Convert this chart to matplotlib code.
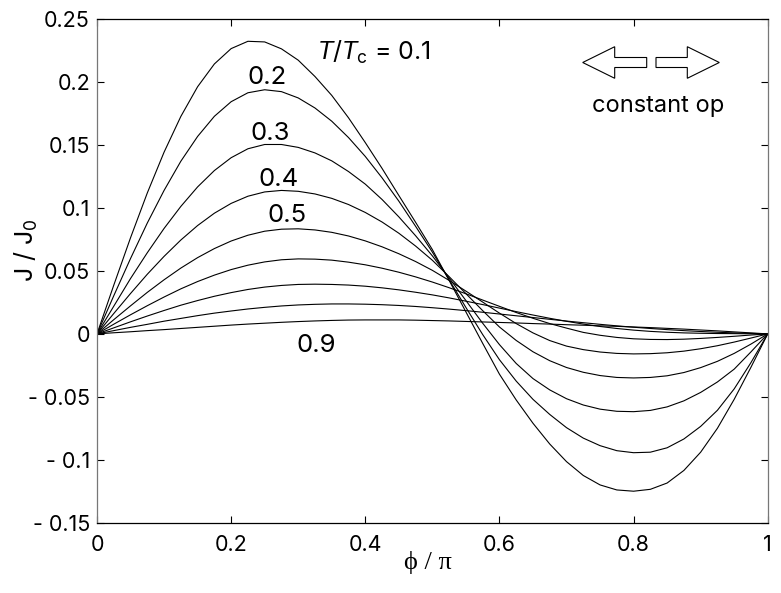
import matplotlib
matplotlib.use("Agg")
import matplotlib.pyplot as plt
from matplotlib.patches import FancyArrow
from matplotlib.transforms import Affine2D

plt.rcParams["font.family"] = ["Inter", "Liberation Sans", "DejaVu Sans"]
plt.rcParams["mathtext.fontset"] = "custom"
plt.rcParams["mathtext.rm"] = "Inter"
plt.rcParams["mathtext.it"] = "Liberation Sans:italic"

# phase difference phi/pi
phi = [0.000, 0.025, 0.050, 0.075, 0.100, 0.125, 0.150, 0.175, 0.200, 0.225,
       0.250, 0.275, 0.300, 0.325, 0.350, 0.375, 0.400, 0.425, 0.450, 0.475,
       0.500, 0.525, 0.550, 0.575, 0.600, 0.625, 0.650, 0.675, 0.700, 0.725,
       0.750, 0.775, 0.800, 0.825, 0.850, 0.875, 0.900, 0.925, 0.950, 0.975,
       1.000]

# J/J0, one list per T/Tc
j_t01 = [0, 0.0387, 0.0764, 0.112, 0.1444, 0.1728, 0.1964, 0.2145, 0.2267, 0.2325,
         0.232, 0.2265, 0.2175, 0.2045, 0.1895, 0.1717, 0.152, 0.1315, 0.110, 0.0887,
         0.067, 0.0425, 0.0175, -0.0075, -0.032, -0.0525, -0.071, -0.0875, -0.1015, -0.1125,
         -0.120, -0.124, -0.125, -0.1235, -0.1185, -0.1085, -0.094, -0.075, -0.052, -0.0265,
         0]
j_t02 = [0, 0.0303, 0.0599, 0.0881, 0.114, 0.1372, 0.1569, 0.1729, 0.1845, 0.1916,
         0.194, 0.1925, 0.1875, 0.1795, 0.169, 0.156, 0.141, 0.124, 0.1055, 0.0855,
         0.065, 0.043, 0.021, -0.0005, -0.0205, -0.0375, -0.052, -0.064, -0.0745, -0.0828,
         -0.0888, -0.0928, -0.0944, -0.094, -0.0905, -0.0835, -0.0735, -0.0607, -0.0437, -0.0228,
         0]
j_t03 = [0, 0.022, 0.044, 0.0645, 0.0838, 0.1013, 0.1168, 0.1298, 0.1400, 0.1471,
         0.1505, 0.1505, 0.1482, 0.1438, 0.1375, 0.1290, 0.1190, 0.1068, 0.093, 0.078,
         0.062, 0.0445, 0.0265, 0.0085, -0.0085, -0.0235, -0.0355, -0.0445, -0.0515, -0.0565,
         -0.0598, -0.0615, -0.0618, -0.0608, -0.058, -0.0532, -0.0465, -0.0382, -0.0280, -0.0143,
         0]
j_t04 = [0, 0.0162, 0.0321, 0.0474, 0.0616, 0.0746, 0.0861, 0.0959, 0.1037, 0.1094,
         0.1128, 0.114, 0.1133, 0.1112, 0.1077, 0.1028, 0.0965, 0.0889, 0.0800, 0.0698,
         0.0585, 0.0455, 0.032, 0.0185, 0.0055, -0.0052, -0.0142, -0.0213, -0.0267, -0.0305,
         -0.0331, -0.0346, -0.035, -0.0346, -0.0333, -0.0307, -0.0268, -0.0218, -0.0155, -0.0081,
         0]
j_t05 = [0, 0.0113, 0.0223, 0.033, 0.043, 0.0523, 0.0606, 0.0678, 0.0738, 0.0784,
         0.0816, 0.0832, 0.0835, 0.0826, 0.0807, 0.0778, 0.0739, 0.0692, 0.0637, 0.0575,
         0.0505, 0.0425, 0.034, 0.0253, 0.0165, 0.0082, 0.0008, -0.0053, -0.0097, -0.0125,
         -0.0144, -0.0155, -0.0159, -0.0157, -0.0150, -0.0137, -0.0118, -0.0094, -0.0065, -0.0033,
         0]
j_t06 = [0, 0.0077, 0.0152, 0.0224, 0.0293, 0.0358, 0.0416, 0.0467, 0.0511, 0.0546,
         0.0572, 0.0589, 0.0596, 0.0594, 0.0586, 0.0570, 0.0549, 0.0522, 0.0490, 0.0453,
         0.0412, 0.0367, 0.0319, 0.0269, 0.0219, 0.0170, 0.0124, 0.0082, 0.0046, 0.0012,
         -0.0011, -0.0028, -0.0039, -0.0044, -0.0045, -0.0042, -0.0036, -0.0028, -0.0019, -0.0009,
         0]
j_t07 = [0, 0.0048, 0.0096, 0.0142, 0.0186, 0.0228, 0.0265, 0.0299, 0.0328, 0.0353,
         0.0372, 0.0385, 0.0393, 0.0395, 0.0393, 0.0388, 0.0379, 0.0366, 0.0350, 0.0331,
         0.0310, 0.0286, 0.0260, 0.0233, 0.0205, 0.0177, 0.0150, 0.0124, 0.0100, 0.0078,
         0.0059, 0.0043, 0.0030, 0.0020, 0.0013, 0.0008, 0.0005, 0.0003, 0.0002, 0.0001,
         0]
j_t08 = [0, 0.0026, 0.0052, 0.0076, 0.0101, 0.0123, 0.0145, 0.0165, 0.0182, 0.0198,
         0.0211, 0.0222, 0.0230, 0.0235, 0.0238, 0.0238, 0.0236, 0.0232, 0.0226, 0.0218,
         0.0208, 0.0197, 0.0185, 0.0172, 0.0158, 0.0144, 0.0130, 0.0116, 0.0102, 0.0089,
         0.0076, 0.0064, 0.0053, 0.0043, 0.0034, 0.0026, 0.0019, 0.0013, 0.0008, 0.0004,
         0]
j_t09 = [0, 0.0009, 0.0017, 0.0026, 0.0034, 0.0043, 0.0052, 0.0061, 0.0070, 0.0078,
         0.0085, 0.0092, 0.0098, 0.0103, 0.0107, 0.0110, 0.0111, 0.0111, 0.0111, 0.0109,
         0.0106, 0.0103, 0.0099, 0.0095, 0.0091, 0.0087, 0.0082, 0.0078, 0.0073, 0.0069,
         0.0064, 0.0060, 0.0055, 0.0050, 0.0044, 0.0038, 0.0031, 0.0024, 0.0016, 0.0008,
         0]

curves = [j_t01, j_t02, j_t03, j_t04, j_t05, j_t06, j_t07, j_t08, j_t09]

x_ticks = [0, 0.2, 0.4, 0.6, 0.8, 1.0]
x_tick_labels = ["0", "0.2", "0.4", "0.6", "0.8", "1"]
y_ticks = [-0.15, -0.1, -0.05, 0, 0.05, 0.1, 0.15, 0.2, 0.25]
y_tick_labels = ["- 0.15", "- 0.1", "- 0.05", "0", "0.05", "0.1", "0.15", "0.2", "0.25"]

# curve labels: text, phi, J (baseline)
labels = ["0.2", "0.3", "0.4", "0.5", "0.9"]
label_phi = [0.253, 0.258, 0.2714, 0.284, 0.3275]
label_j = [0.1987, 0.1537, 0.1179, 0.0887, -0.0141]

fig = plt.figure(figsize=(7.81, 5.93), dpi=100)
ax = fig.add_axes([0.1242, 0.1186, 0.8588, 0.8489])

for j in curves:
    ax.plot(phi, j, color="black", lw=0.8)

ax.set_xlim(0, 1)
ax.set_ylim(-0.15, 0.25)
ax.set_xticks(x_ticks)
ax.set_xticklabels(x_tick_labels)
ax.set_yticks(y_ticks)
ax.set_yticklabels(y_tick_labels)
ax.tick_params(direction="in", top=True, right=True, length=5, width=0.8,
               labelsize=15.5)
ax.tick_params(axis="x", pad=9)
ax.tick_params(axis="y", pad=5)
for side in ["left", "right"]:
    ax.spines[side].set_color("#777777")
for side in ["top", "bottom"]:
    ax.spines[side].set_color("black")
for sp in ax.spines.values():
    sp.set_linewidth(0.9)

ax.set_xlabel("ϕ / π", family=["Liberation Serif", "DejaVu Serif"], fontsize=19,
              va="center")
ax.xaxis.set_label_coords(0.4935, -0.080)
ax.set_ylabel("J / J$_0$", fontsize=18, va="center")
ax.yaxis.set_label_coords(-0.1059, 0.5417)

ax.text(0.328, 0.2178, r"$T/T_{\rm c}$ = 0.1", fontsize=18, ha="left", va="baseline")
for t, x, y in zip(labels, label_phi, label_j):
    ax.text(x, y, t, fontsize=18.5, ha="center", va="baseline")

ax.text(0.8365, 0.1762, "constant op", fontsize=17, ha="center", va="baseline")

# hollow block arrows, drawn in pixel units
px = Affine2D().scale(1 / fig.dpi) + fig.dpi_scale_trans
for x0, dx in [(646.7, -64.0), (656.0, 63.3)]:
    arr = FancyArrow(x0, 593 - 62.5, dx, 0, width=10, head_width=31.6, head_length=32,
                     length_includes_head=True, transform=px,
                     facecolor="white", edgecolor="black", lw=0.8)
    fig.add_artist(arr)

fig.savefig("out.png", dpi=100)
